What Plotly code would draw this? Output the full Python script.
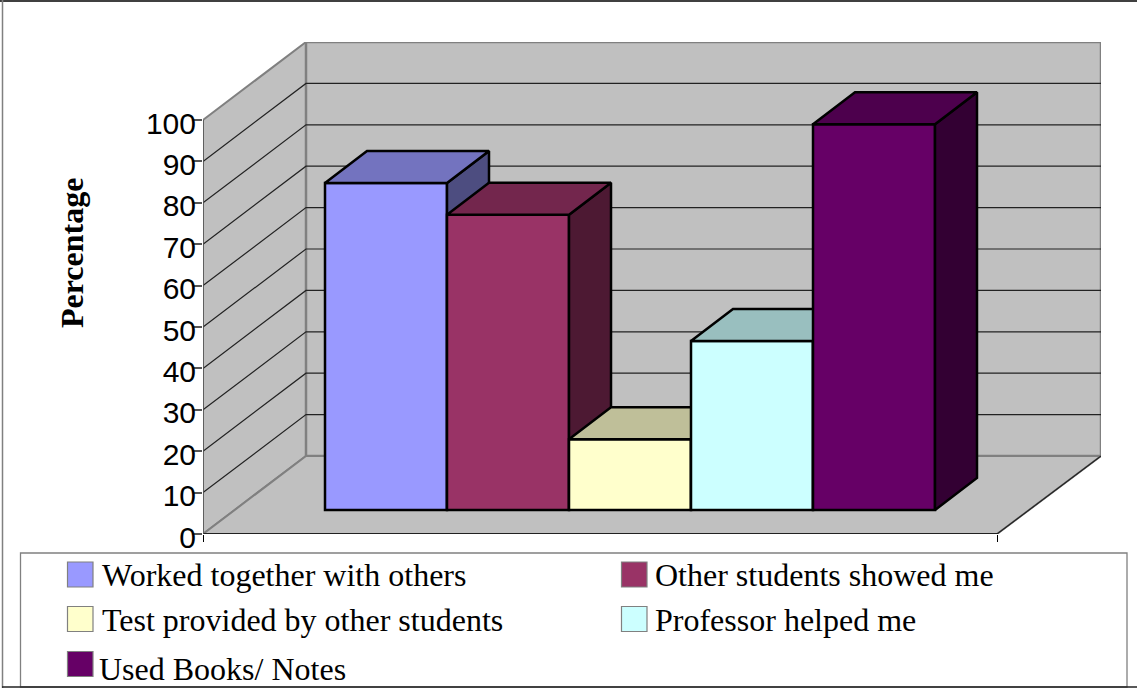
import plotly.graph_objects as go

categories = ["Worked together with others", "Other students showed me",
              "Test provided by other students", "Professor helped me", "Used Books/ Notes"]
values = [79, 71.3, 17.1, 40.8, 93.2]
y_ticks = [0, 10, 20, 30, 40, 50, 60, 70, 80, 90, 100]
front_colors = ["#9999FF", "#993366", "#FFFFCC", "#CCFFFF", "#660066"]
top_colors = ["#7373BF", "#73264D", "#BFBF99", "#99BFBF", "#4D004D"]
side_colors = ["#4D4D80", "#4D1933", "#808066", "#668080", "#330033"]

W, H = 1137, 688
PX_L, PX_R, PX_B, PX_T = 203, 1101, 534, 42
PX_PER_BAR, PX_PER_UNIT = 122.0, 4.14
X_MAX = (PX_R - PX_L) / PX_PER_BAR
Y_MAX = (PX_B - PX_T) / PX_PER_UNIT
WALL_DX, WALL_DY = 103 / PX_PER_BAR, 78 / PX_PER_UNIT
FLOOR_END = (997 - PX_L) / PX_PER_BAR
BAR_DX, BAR_DY = 42 / PX_PER_BAR, 32 / PX_PER_UNIT
BAR_BASE = (PX_B - 510) / PX_PER_UNIT
GRAY = "#C0C0C0"
EDGE = "#808080"

fig = go.Figure()


def poly(xs, ys, fill, line, width, xa="x", ya="y", name=""):
    fig.add_trace(go.Scatter(x=xs, y=ys, mode="lines", fill="toself" if fill else "none",
                             fillcolor=fill, line=dict(color=line, width=width),
                             xaxis=xa, yaxis=ya, showlegend=False, hoverinfo="skip",
                             name=name, cliponaxis=False))


# walls and floor
poly([0, WALL_DX, WALL_DX, 0, 0], [0, WALL_DY, Y_MAX, 100, 0], GRAY, EDGE, 2)
poly([WALL_DX, X_MAX, X_MAX, WALL_DX, WALL_DX], [WALL_DY, WALL_DY, Y_MAX, Y_MAX, WALL_DY], GRAY, EDGE, 2.5)
poly([0, WALL_DX, X_MAX, FLOOR_END, 0], [0, WALL_DY, WALL_DY, 0, 0], GRAY, EDGE, 2)
for t in y_ticks[1:-1]:
    poly([0, WALL_DX, X_MAX], [t, t + WALL_DY, t + WALL_DY], None, "#222222", 1.2)
poly([FLOOR_END, X_MAX], [0, WALL_DY], None, "#222222", 1.2)
poly([0, FLOOR_END], [0, 0], None, "#000000", 1.6)
poly([0, 0], [0, 100], None, "#555555", 1.5)

# bars, each in its own overlaid subplot so that the left-to-right painting is kept
for i, (cat, v) in enumerate(zip(categories, values)):
    n = i + 2
    xa, ya = f"x{n}", f"y{n}"
    x0, x1 = i + 1, i + 2
    y0, y1 = BAR_BASE, BAR_BASE + v
    fig.add_trace(go.Bar(x=[x0 + 0.5], y=[v], base=[y0], width=[1], name=cat,
                         marker=dict(color=front_colors[i], line=dict(color="#000000", width=2.5)),
                         xaxis=xa, yaxis=ya, showlegend=False, cliponaxis=False,
                         hovertemplate=cat + ": %{y}<extra></extra>"))
    poly([x1, x1 + BAR_DX, x1 + BAR_DX, x1, x1],
         [y0, y0 + BAR_DY, y1 + BAR_DY, y1, y0], side_colors[i], "#000000", 2.5, xa, ya, cat)
    poly([x0, x1, x1 + BAR_DX, x0 + BAR_DX, x0],
         [y1, y1, y1 + BAR_DY, y1 + BAR_DY, y1], top_colors[i], "#000000", 2.5, xa, ya, cat)

dom_x = [PX_L / W, PX_R / W]
dom_y = [1 - PX_B / H, 1 - PX_T / H]
layout = dict(
    width=W, height=H, margin=dict(l=0, r=0, t=0, b=0, autoexpand=False),
    paper_bgcolor="white", plot_bgcolor="white", barmode="overlay", showlegend=False,
    xaxis=dict(domain=dom_x, range=[0, X_MAX], showgrid=False, zeroline=False, showline=False,
               tickmode="array", tickvals=[0, FLOOR_END], ticktext=["", ""], ticks="outside",
               ticklen=7, tickcolor="#000000", tickwidth=1),
    yaxis=dict(domain=dom_y, range=[0, Y_MAX], showgrid=False, zeroline=False, showline=False,
               tickmode="array", tickvals=y_ticks,
               ticks="outside", ticklen=9, tickcolor="#555555", tickwidth=1.5,
               ticklabelshift=3, ticklabelstandoff=-9,
               tickfont=dict(family="Liberation Sans", size=30, color="#000000")),
)
for n in range(2, 7):
    layout[f"xaxis{n}"] = dict(domain=dom_x, range=[0, X_MAX], overlaying="x", visible=False, anchor=f"y{n}")
    layout[f"yaxis{n}"] = dict(domain=dom_y, range=[0, Y_MAX], overlaying="y", visible=False, anchor=f"x{n}")
fig.update_layout(**layout)


def px(x):
    return x / W


def py(y):
    return 1 - y / H


def rect(x0, y0, x1, y1, line, width, fill=None):
    fig.add_shape(type="rect", xref="paper", yref="paper", x0=px(x0), x1=px(x1), y0=py(y0), y1=py(y1),
                  line=dict(color=line, width=width), fillcolor=fill, layer="above")


# chart border and legend box
fig.add_shape(type="line", xref="paper", yref="paper", x0=px(0), x1=px(W), y0=py(1), y1=py(1),
              line=dict(color="#000000", width=1.5))
fig.add_shape(type="line", xref="paper", yref="paper", x0=px(2.5), x1=px(2.5), y0=py(0), y1=py(H),
              line=dict(color="#808080", width=1.5))
rect(20.5, 553, 1127, 687, "#808080", 1.3, "white")
fig.add_shape(type="line", xref="paper", yref="paper", x0=px(2), x1=px(W), y0=py(687), y1=py(687),
              line=dict(color="#222222", width=1.5))

# legend entries: swatch x, text x, swatch centre y, text centre y
legend_pos = [(67, 100, 574.5, 574.5), (621, 653, 574.5, 574.5), (67, 100, 619, 620),
              (621, 653, 619, 620), (67, 97, 664, 668.5)]
for cat, col, (sx, tx, cy, ty) in zip(categories, front_colors, legend_pos):
    rect(sx + 0.5, cy - 12.5, sx + 26, cy + 12.5, "#808080", 1.2, col)
    fig.add_annotation(xref="paper", yref="paper", x=px(tx), y=py(ty), text=cat, showarrow=False,
                       xanchor="left", yanchor="middle", xshift=0,
                       font=dict(family="Liberation Serif", size=32, color="#000000"))

fig.add_annotation(xref="paper", yref="paper", x=px(72), y=py(253), text="<b>Percentage</b>", showarrow=False,
                   textangle=-90, xanchor="center", yanchor="middle",
                   font=dict(family="Liberation Serif", size=32, color="#000000"))

fig.write_html("out.html", config=dict(displayModeBar=False, responsive=False),
               post_script="document.body.style.margin='0';")
